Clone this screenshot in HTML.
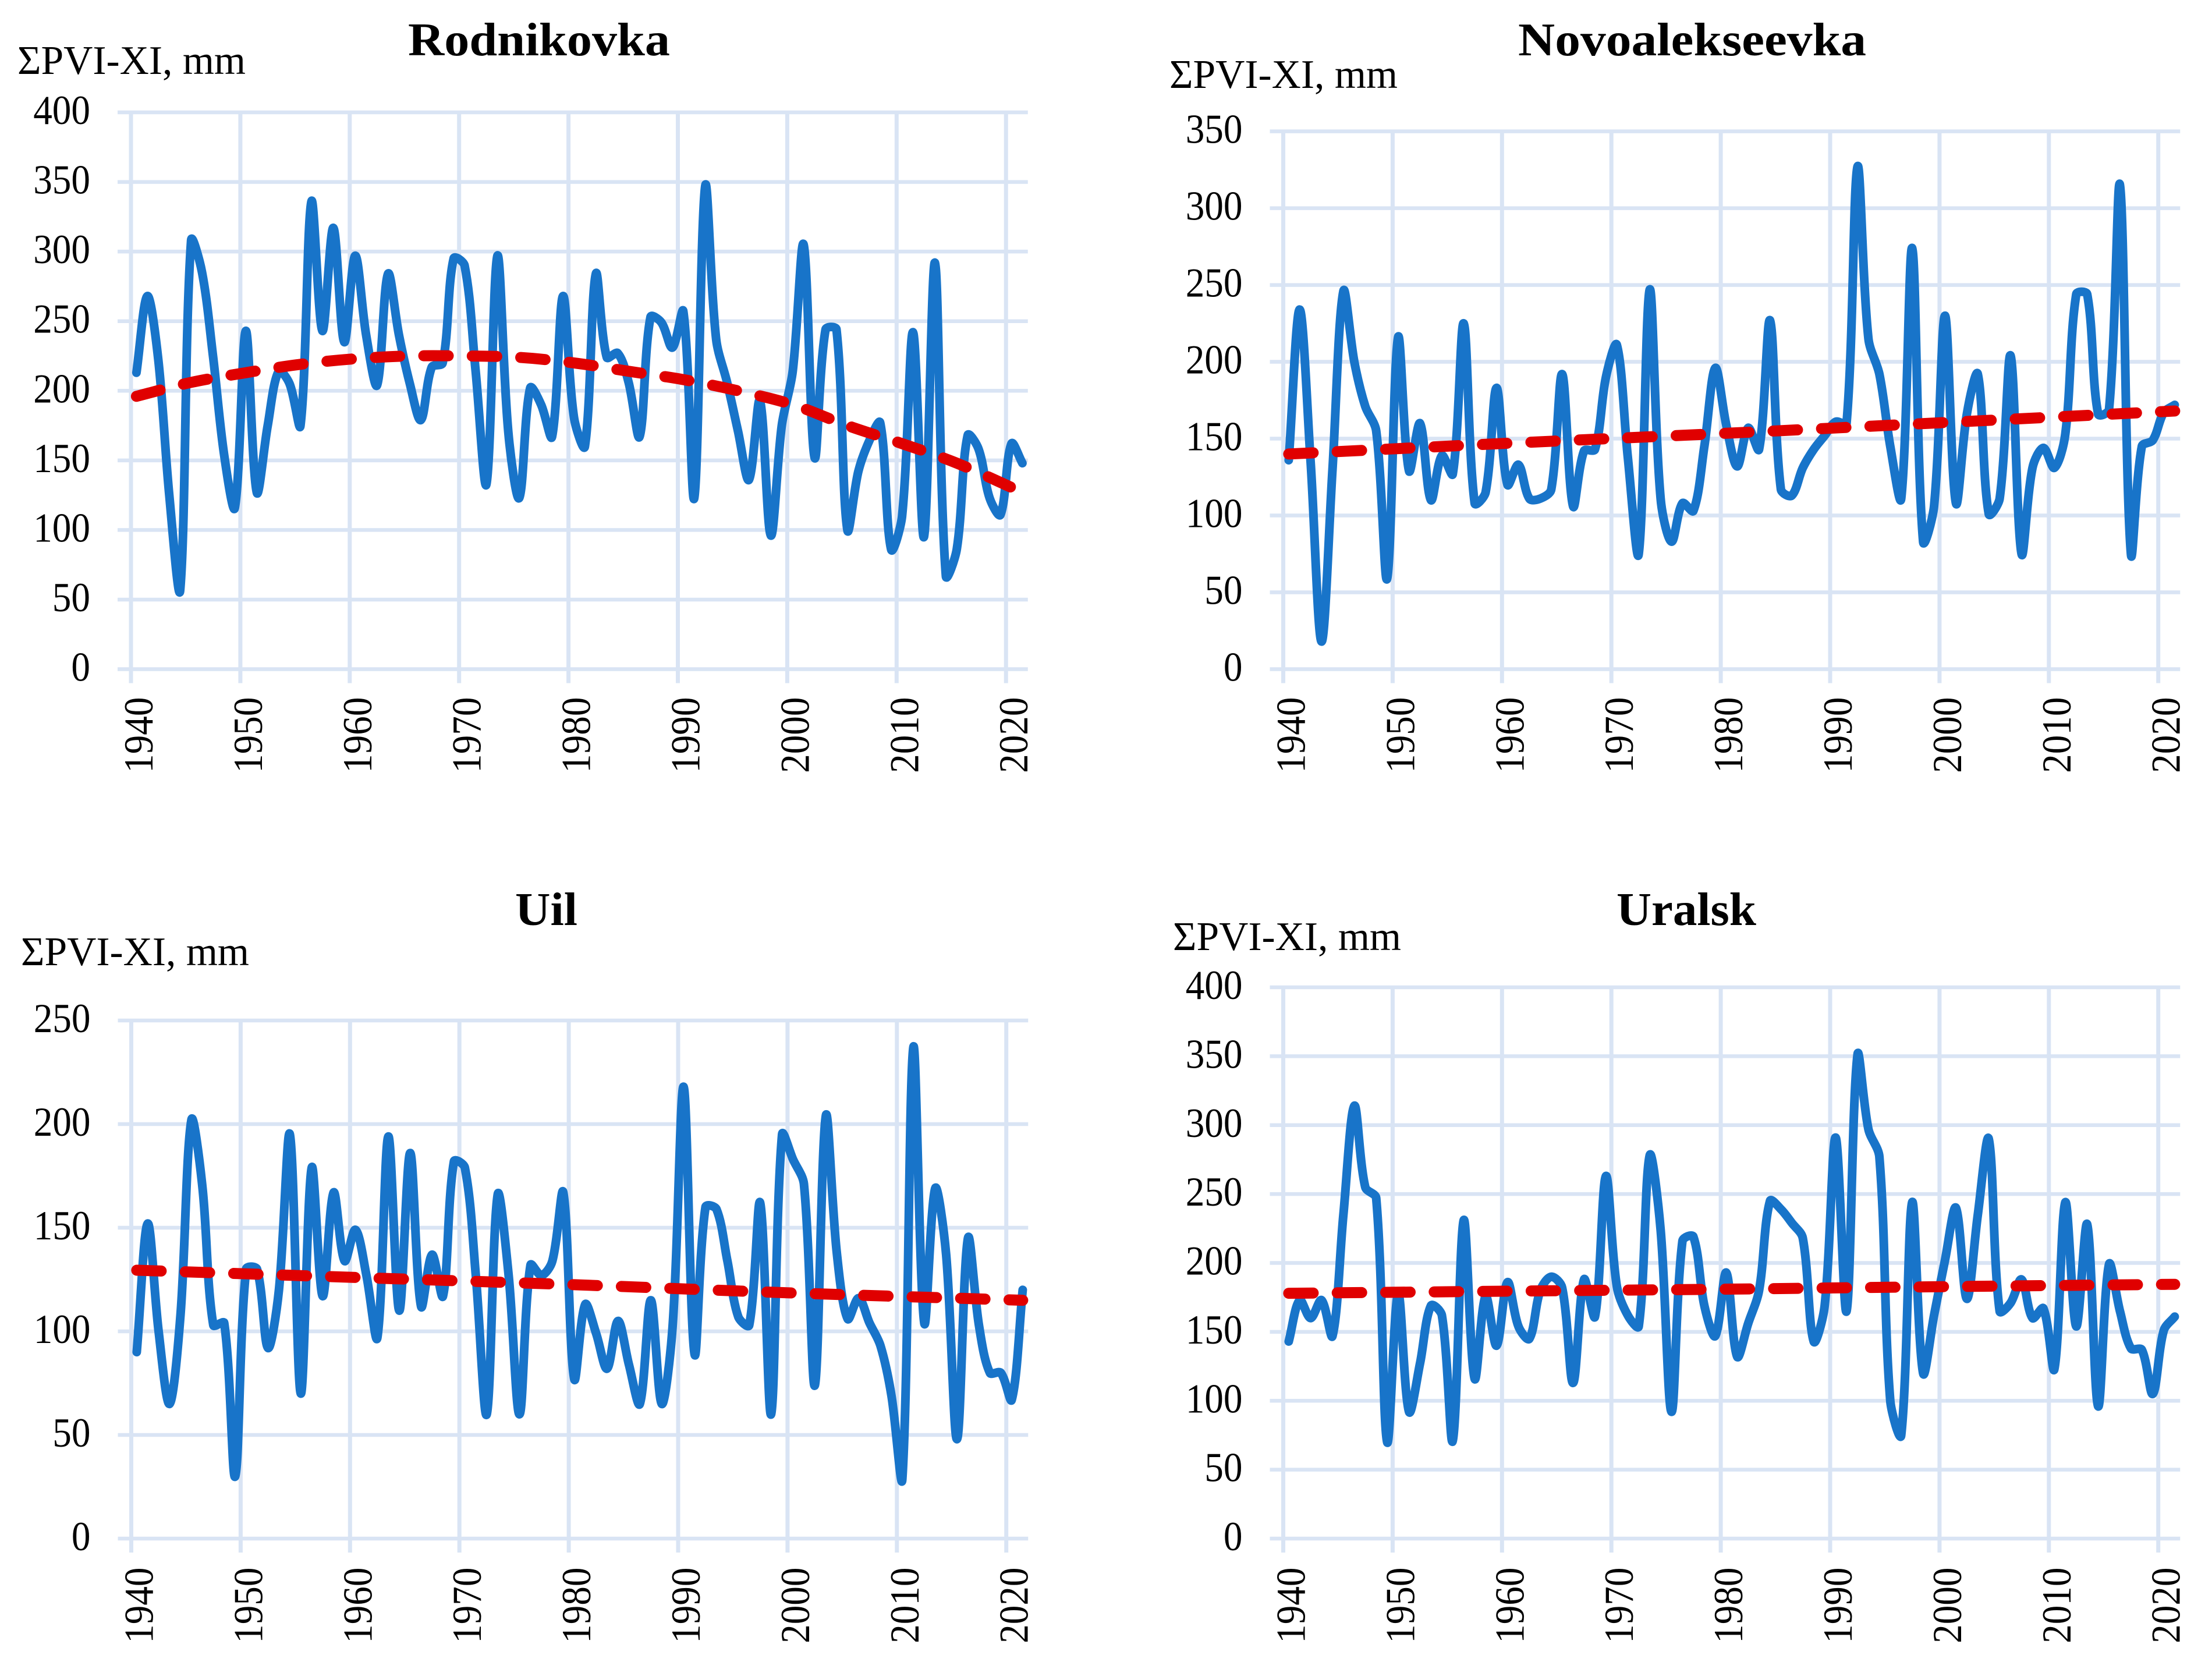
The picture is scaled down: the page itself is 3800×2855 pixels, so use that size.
<!DOCTYPE html>
<html lang="en">
<head>
<meta charset="utf-8">
<title>ΣPVI-XI precipitation by station</title>
<style>
html,body{margin:0;padding:0;background:#fff;}
svg{display:block;}
text{font-family:"Liberation Serif",serif;fill:#000;}
</style>
</head>
<body>
<svg id="chart" xmlns="http://www.w3.org/2000/svg" width="3800" height="2855" viewBox="0 0 3800 2855"></svg>
<script>
const yearTicks = [1940,1950,1960,1970,1980,1990,2000,2010,2020];
const firstYear = 1940;
const yearCount = 82;

const rodnikovkaTicks = [0,50,100,150,200,250,300,350,400];
const rodnikovkaValues = [213,268,222,125,57,308,285,225,155,116,243,127,175,214,205,175,336,243,317,235,297,240,204,284,240,205,179,217,220,295,290,215,133,297,170,123,202,190,167,268,181,160,284,224,227,206,167,253,249,231,257,123,347,237,206,171,136,193,96,175,214,305,152,244,244,100,142,164,177,86,110,242,95,292,67,86,168,158,123,111,162,148];
const rodnikovkaTrendYears = [1940,1945,1950,1955,1960,1965,1970,1975,1980,1985,1990,1995,2000,2005,2010,2015,2021];
const rodnikovkaTrendValues = [196,206,213,219,223,225,225,224,220,214,208,200,190,175,162,148,127];

const novoalekseevkaTicks = [0,50,100,150,200,250,300,350];
const novoalekseevkaValues = [136,234,135,18,130,246,200,171,155,59,216,129,160,110,139,127,225,108,115,183,120,133,111,111,117,192,106,142,143,190,211,138,75,247,111,83,108,103,145,196,159,132,157,143,227,117,113,131,143,152,161,160,327,215,192,145,111,274,83,106,230,108,166,192,101,111,204,75,131,144,131,153,244,244,166,169,315,75,145,149,167,172];
const novoalekseevkaTrendYears = [1940,1960,1980,2000,2021];
const novoalekseevkaTrendValues = [140,147,153.5,160.5,168];

const uilTicks = [0,50,100,150,200,250];
const uilValues = [90,152,100,65,108,202,170,103,104,30,130,130,92,120,195,70,179,117,167,134,149,127,97,194,110,186,112,137,117,182,179,127,60,166,127,60,132,127,134,167,77,113,99,82,105,84,65,115,65,103,218,89,160,159,134,107,103,162,60,195,183,171,74,204,138,106,116,104,93,69,29,237,104,169,137,48,145,103,80,80,67,120];
const uilTrendYears = [1940,1960,1980,2000,2021];
const uilTrendValues = [129.5,126,122.5,118.5,115];

const uralskTicks = [0,50,100,150,200,250,300,350,400];
const uralskValues = [143,173,160,173,147,235,314,255,247,70,178,92,127,169,162,71,231,116,176,140,186,154,145,180,190,182,113,188,161,263,183,162,154,278,224,92,216,219,169,147,193,132,156,180,245,239,229,218,143,169,291,165,351,297,277,100,75,244,120,162,202,240,174,235,290,165,171,188,160,167,123,244,154,228,96,199,165,138,137,105,151,161];
const uralskTrendYears = [1940,1960,1980,2000,2021];
const uralskTrendValues = [178,179.5,181,182.8,184.5];

const NS = 'http://www.w3.org/2000/svg';
const root = document.getElementById('chart');
const GRID = '#d9e4f4', BLUE = '#1874c9', RED = '#e00000';
const PX_PER_YEAR = 18.79;
const DIGIT_W = 32.6;

function make(tag, attrs, parent, text) {
  const el = document.createElementNS(NS, tag);
  for (const k in attrs) el.setAttribute(k, attrs[k]);
  if (text !== undefined) el.textContent = text;
  parent.appendChild(el);
  return el;
}

function dist(a, b) {
  return Math.hypot(a[0] - b[0], a[1] - b[1]);
}

/* chord-weighted Bezier smoothing: tangents shrink next to short segments, as in spreadsheet smoothed lines */
function smoothPath(pts) {
  let d = 'M' + pts[0][0].toFixed(1) + ' ' + pts[0][1].toFixed(1);
  for (let i = 0; i < pts.length - 1; i++) {
    const p0 = pts[Math.max(i - 1, 0)], p1 = pts[i], p2 = pts[i + 1], p3 = pts[Math.min(i + 2, pts.length - 1)];
    const a = dist(p0, p1), b = dist(p1, p2), c = dist(p2, p3);
    const f1 = (a + b) > 0 ? b / (a + b) / 3 : 0;
    const f2 = (b + c) > 0 ? b / (b + c) / 3 : 0;
    const c1x = p1[0] + (p2[0] - p0[0]) * f1, c1y = p1[1] + (p2[1] - p0[1]) * f1;
    const c2x = p2[0] - (p3[0] - p1[0]) * f2, c2y = p2[1] - (p3[1] - p1[1]) * f2;
    d += 'C' + c1x.toFixed(1) + ' ' + c1y.toFixed(1) + ' ' + c2x.toFixed(1) + ' ' + c2y.toFixed(1) + ' ' + p2[0].toFixed(1) + ' ' + p2[1].toFixed(1);
  }
  return d;
}

function drawPanel(cfg) {
  const g = make('g', {}, root);
  
  

  const maxTick = cfg.ticks[cfg.ticks.length - 1];
  const yOf = v => cfg.bottom - (v / maxTick) * (cfg.bottom - cfg.top);
  const tickX = year => cfg.x0 + PX_PER_YEAR * (year - firstYear);
  const xOf = year => tickX(year) + PX_PER_YEAR / 2;
  const right = tickX(firstYear + yearCount);

  cfg.ticks.forEach(t => {
    const y = yOf(t);
    const line = make('line', {x1: cfg.x0 - 23, x2: right, y1: y, y2: y, stroke: GRID, 'stroke-width': 6.5}, g);
    
    
    const text = String(t);
    const label = make('text', {x: cfg.x0 - 70, y: y + 20, 'text-anchor': 'end', 'font-size': 71, textLength: text.length * DIGIT_W, lengthAdjust: 'spacingAndGlyphs'}, g, text);
    
    
  });

  yearTicks.forEach(year => {
    const x = tickX(year);
    const line = make('line', {x1: x, x2: x, y1: cfg.top, y2: cfg.bottom + 24, stroke: GRID, 'stroke-width': 7}, g);
    
    
    const lx = x + 37, ly = cfg.xLabelTop;
    const text = String(year);
    const label = make('text', {x: lx, y: ly, 'text-anchor': 'end', 'font-size': 71, textLength: text.length * DIGIT_W, lengthAdjust: 'spacingAndGlyphs', transform: 'rotate(-90 ' + lx + ' ' + ly + ')'}, g, text);
    
    
  });

  const seriesPts = cfg.values.map((v, i) => [xOf(firstYear + i), yOf(v)]);
  const series = make('path', {d: smoothPath(seriesPts), fill: 'none', stroke: BLUE, 'stroke-width': 15, 'stroke-linecap': 'round', 'stroke-linejoin': 'round'}, g);
  
  

  const trendPts = cfg.trendYears.map((yr, i) => [xOf(yr), yOf(cfg.trendValues[i])]);
  const trend = make('path', {d: smoothPath(trendPts), fill: 'none', stroke: RED, 'stroke-width': 19, 'stroke-linecap': 'round', 'stroke-linejoin': 'round', 'stroke-dasharray': '42 41.3'}, g);
  
  

  const title = make('text', {x: cfg.titleX, y: cfg.titleY, 'font-size': 80, 'font-weight': 'bold', textLength: cfg.titleW, lengthAdjust: 'spacingAndGlyphs'}, g, cfg.name);
  
  

  const yTitle = make('text', {x: cfg.yLabelX, y: cfg.yLabelY, 'font-size': 70, textLength: 392, lengthAdjust: 'spacingAndGlyphs'}, g, 'ΣPVI-XI, mm');
  
  
}

drawPanel({name: 'Rodnikovka', slug: 'rodnikovka', ticks: rodnikovkaTicks, values: rodnikovkaValues, trendYears: rodnikovkaTrendYears, trendValues: rodnikovkaTrendValues,
  x0: 225, top: 193, bottom: 1149.5, xLabelTop: 1197.5, titleX: 701, titleY: 95, titleW: 450, yLabelX: 30, yLabelY: 127});
drawPanel({name: 'Novoalekseevka', slug: 'novoalekseevka', ticks: novoalekseevkaTicks, values: novoalekseevkaValues, trendYears: novoalekseevkaTrendYears, trendValues: novoalekseevkaTrendValues,
  x0: 2204.5, top: 225.6, bottom: 1149.5, xLabelTop: 1197.5, titleX: 2608, titleY: 95, titleW: 598, yLabelX: 2009, yLabelY: 151});
drawPanel({name: 'Uil', slug: 'uil', ticks: uilTicks, values: uilValues, trendYears: uilTrendYears, trendValues: uilTrendValues,
  x0: 225.5, top: 1753, bottom: 2643, xLabelTop: 2692.5, titleX: 885, titleY: 1589, titleW: 107, yLabelX: 36, yLabelY: 1658});
drawPanel({name: 'Uralsk', slug: 'uralsk', ticks: uralskTicks, values: uralskValues, trendYears: uralskTrendYears, trendValues: uralskTrendValues,
  x0: 2204.5, top: 1696, bottom: 2643, xLabelTop: 2692.5, titleX: 2777, titleY: 1589, titleW: 240, yLabelX: 2015, yLabelY: 1632});
</script>
</body>
</html>
